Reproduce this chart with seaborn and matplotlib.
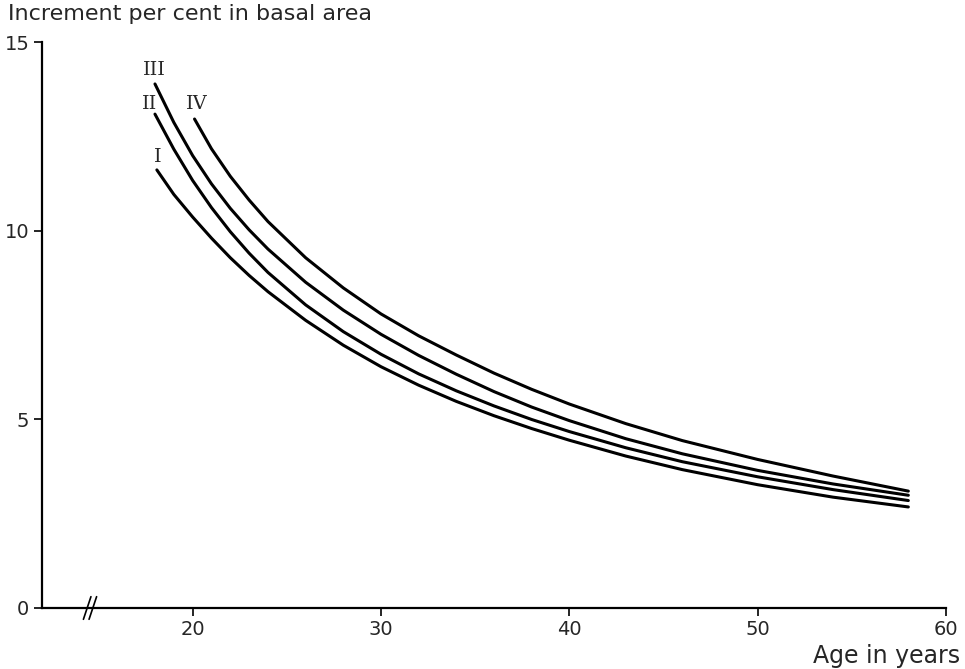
import pandas as pd
import matplotlib.pyplot as plt
import seaborn as sns

sns.set_style("white")
plt.rcParams['font.family'] = ['DejaVu Sans']

# curves (age in years, increment per cent)
ages = [24, 26, 28, 30, 32, 34, 36, 38, 40, 43, 46, 50, 54, 58]
age_I = [18.1, 19, 20, 21, 22, 23] + ages
inc_I = [11.62, 10.97, 10.37, 9.81, 9.29, 8.82, 8.39, 7.63, 6.97, 6.40, 5.91, 5.48,
         5.10, 4.76, 4.45, 4.03, 3.67, 3.27, 2.94, 2.68]
age_II = [18, 19, 20, 21, 22, 23] + ages
inc_II = [13.1, 12.17, 11.34, 10.62, 9.98, 9.41, 8.90, 8.04, 7.33, 6.73, 6.21, 5.76,
          5.36, 5.00, 4.68, 4.25, 3.88, 3.48, 3.14, 2.85]
age_III = [18, 19, 20, 21, 22, 23] + ages
inc_III = [13.9, 12.88, 12.0, 11.25, 10.6, 10.03, 9.52, 8.64, 7.90, 7.26, 6.70, 6.20,
           5.74, 5.33, 4.97, 4.49, 4.09, 3.65, 3.29, 2.99]
age_IV = [20.1, 21, 22, 23] + ages
inc_IV = [12.97, 12.18, 11.45, 10.82, 10.25, 9.29, 8.49, 7.80, 7.22, 6.71, 6.23,
          5.80, 5.41, 4.89, 4.44, 3.94, 3.50, 3.10]

classes = ["I", "II", "III", "IV"]
label_x = [18.15, 17.7, 17.99, 20.2]
label_y = [11.96, 13.37, 14.27, 13.37]

frames = []
for c, a, v in zip(classes, [age_I, age_II, age_III, age_IV], [inc_I, inc_II, inc_III, inc_IV]):
    frames.append(pd.DataFrame({"age": a, "inc": v, "cls": c}))
df = pd.concat(frames, ignore_index=True)

fig = plt.figure(figsize=(9.65, 6.69), dpi=100)
ax = fig.add_axes([0.0435, 0.0912, 0.9368, 0.8453])
sns.lineplot(data=df, x="age", y="inc", hue="cls", palette=["black"] * 4,
             linewidth=2.2, legend=False, ax=ax)

for c, lx, ly in zip(classes, label_x, label_y):
    ax.text(lx, ly, c, family="DejaVu Serif", fontsize=14, ha="center", va="center")

ax.set_xlim(12, 60)
ax.set_ylim(0, 15)
ax.set_xticks([20, 30, 40, 50, 60])
ax.set_yticks([0, 5, 10, 15])
ax.tick_params(axis="both", direction="out", length=6, width=1.2, labelsize=14,
               left=True, bottom=True, color="black", pad=3)
for s in ["top", "right"]:
    ax.spines[s].set_visible(False)
for s in ["left", "bottom"]:
    ax.spines[s].set_linewidth(1.6)
    ax.spines[s].set_color("black")
ax.set_xlabel("")
ax.set_ylabel("")

# axis break marks
for dx in [-0.15, 0.15]:
    ax.plot([14.35 + dx, 14.75 + dx], [-0.3, 0.3], color="black", lw=1.2, clip_on=False)

fig.text(8 / 965, 1 - 14 / 669, "Increment per cent in basal area", fontsize=16,
         ha="left", va="center")
fig.text(960 / 965, 1 - 656 / 669, "Age in years", fontsize=17, ha="right", va="center")

fig.savefig("out.png", dpi=100)
